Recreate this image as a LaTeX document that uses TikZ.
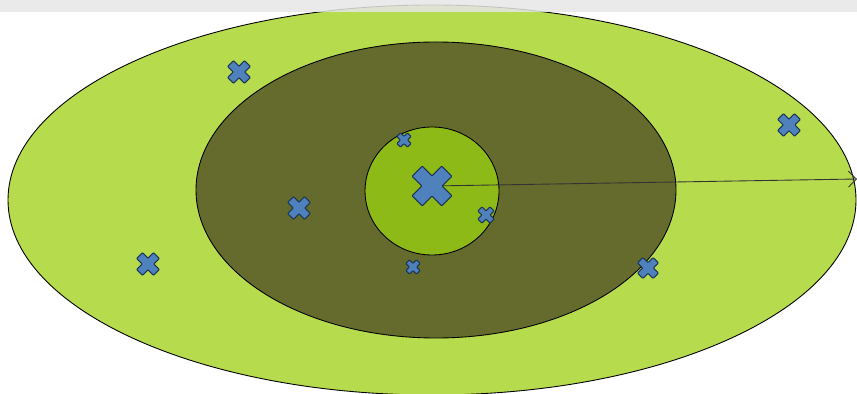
\documentclass[tikz,border=0pt]{standalone}
\usepackage{xcolor}
\usetikzlibrary{arrows.meta}
\definecolor{ZOuter}{HTML}{B6DC4E}
\definecolor{ZMiddle}{HTML}{646B2C}
\definecolor{ZInner}{HTML}{8DBA16}
\definecolor{XBlue}{HTML}{4F81BD}
\definecolor{XEdge}{HTML}{1C3557}
\definecolor{ZStrip}{HTML}{E6E6E6}
\tikzset{
  pics/xmark/.style={code={
    \path[xfill,scale=#1,rotate=45]
      (-0.34,1) -- (0.34,1) -- (0.34,0.34) -- (1,0.34) -- (1,-0.34)
      -- (0.34,-0.34) -- (0.34,-1) -- (-0.34,-1) -- (-0.34,-0.34)
      -- (-1,-0.34) -- (-1,0.34) -- (-0.34,0.34) -- cycle;
  }}
}

\begin{document}
\begin{tikzpicture}[
  x=0.02cm,y=-0.02cm,
  zone/.style={draw=black,line width=0.5pt},
  xfill/.style={fill=XBlue,draw=XEdge,line width=0.6pt,rounded corners=0.4pt},
  ray/.style={-{Straight Barb[length=1.6mm]},line width=0.5pt,color=black!80}
]
  \useasboundingbox (0,0) rectangle (857,394);
  \clip (0,0) rectangle (857,394);

  % zones
  \draw[zone,fill=ZOuter] (432,200) ellipse [x radius=424,y radius=195];
  \draw[zone,fill=ZMiddle] (436,190) ellipse [x radius=240,y radius=148];
  \draw[zone,fill=ZInner] (432,191) ellipse [x radius=67,y radius=64];

  % radius
  \coordinate (centre) at (432,186);
  \coordinate (rim) at (857,179);
  \draw[ray] (centre) -- (rim);

  % marks
  \pic at (centre) {xmark=21};
  \pic at (239,72) {xmark=12};
  \pic at (789,125) {xmark=12};
  \pic at (299,208) {xmark=12};
  \pic at (148,264) {xmark=12};
  \pic at (648,268) {xmark=11};
  \pic at (404,140) {xmark=7.5};
  \pic at (486,215) {xmark=8.5};
  \pic at (413,267) {xmark=7.5};

  % top strip
  \fill[ZStrip,opacity=0.85] (0,0) rectangle (857,12);
\end{tikzpicture}
\end{document}
